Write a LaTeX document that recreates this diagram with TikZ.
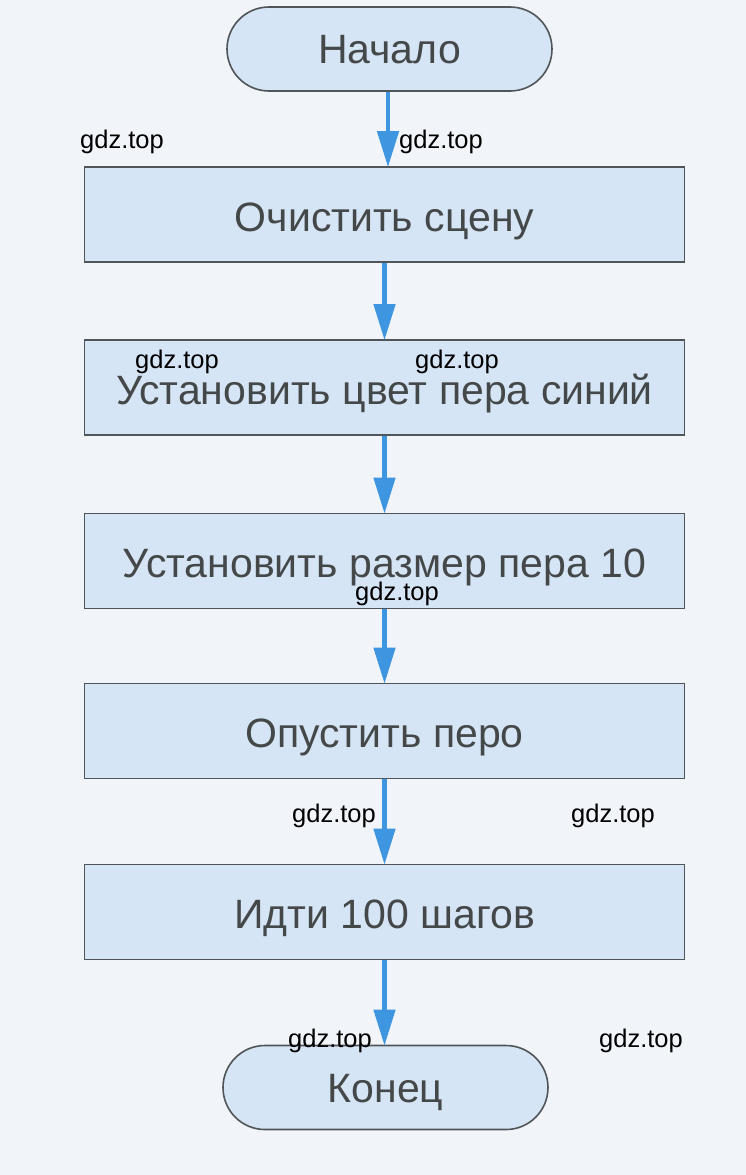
\documentclass[tikz,border=0pt]{standalone}
\usepackage{fontspec}
\setmainfont{Liberation Sans}
\usepackage{tikz}
\usetikzlibrary{arrows.meta}

\definecolor{pagebg}{HTML}{F1F5FA}
\definecolor{boxfill}{HTML}{D5E5F5}
\definecolor{boxline}{HTML}{505558}
\definecolor{flowblue}{HTML}{3F96E0}
\definecolor{textgrey}{HTML}{454849}

\tikzset{
  blockbox/.style={draw=boxline, line width=1.6pt, fill=boxfill, rectangle,
    minimum width=600pt, minimum height=95pt, inner sep=0pt,
    text height=33.5pt, text depth=0pt,
    text=textgrey, font=\fontsize{41}{48}\selectfont},
  termbox/.style={blockbox, minimum width=325pt, minimum height=84pt,
    rounded corners=42pt, text height=29.5pt},
  flow/.style={draw=flowblue, line width=4.5pt,
    -{Triangle[length=36pt,width=21pt]}, shorten >=-1pt},
  wmark/.style={font=\fontsize{25.5}{30}\selectfont, text=black,
    inner sep=0pt, anchor=base}
}

\begin{document}
\begin{tikzpicture}[x=1pt,y=-1pt]
        \fill[pagebg] (0,0) rectangle (746,1175);
        \useasboundingbox (0,0) rectangle (746,1175);

                \node[termbox] (start) at (389.5,49) {Начало};
                \node[blockbox] (clear) at (384.5,214.5) {Очистить сцену};
                \node[blockbox] (color) at (384.5,387.5) {Установить цвет пера синий};
                \node[blockbox] (size) at (384.5,561) {Установить размер пера 10};
                \node[blockbox] (down) at (384.5,731) {Опустить перо};
                \node[blockbox] (walk) at (384.5,912) {Идти 100 шагов};
                \node[termbox] (stop) at (385.5,1087.5) {Конец};

                \draw[flow] (start.south -| 388,0) -- (clear.north -| 388,0);
                \draw[flow] (clear) -- (color);
                \draw[flow] (color) -- (size);
                \draw[flow] (size) -- (down);
                \draw[flow] (down) -- (walk);
                \draw[flow] (walk.south) -- (stop.north -| walk.south);

                \node[wmark] (w1) at (122,148) {gdz.top};
                \node[wmark] (w2) at (441,148) {gdz.top};
                \node[wmark] (w3) at (177,368) {gdz.top};
                \node[wmark] (w4) at (457,368) {gdz.top};
                \node[wmark] (w5) at (397,600) {gdz.top};
                \node[wmark] (w6) at (334,822) {gdz.top};
                \node[wmark] (w7) at (613,822) {gdz.top};
                \node[wmark] (w8) at (330,1047) {gdz.top};
                \node[wmark] (w9) at (641,1047) {gdz.top};

\end{tikzpicture}
\end{document}
